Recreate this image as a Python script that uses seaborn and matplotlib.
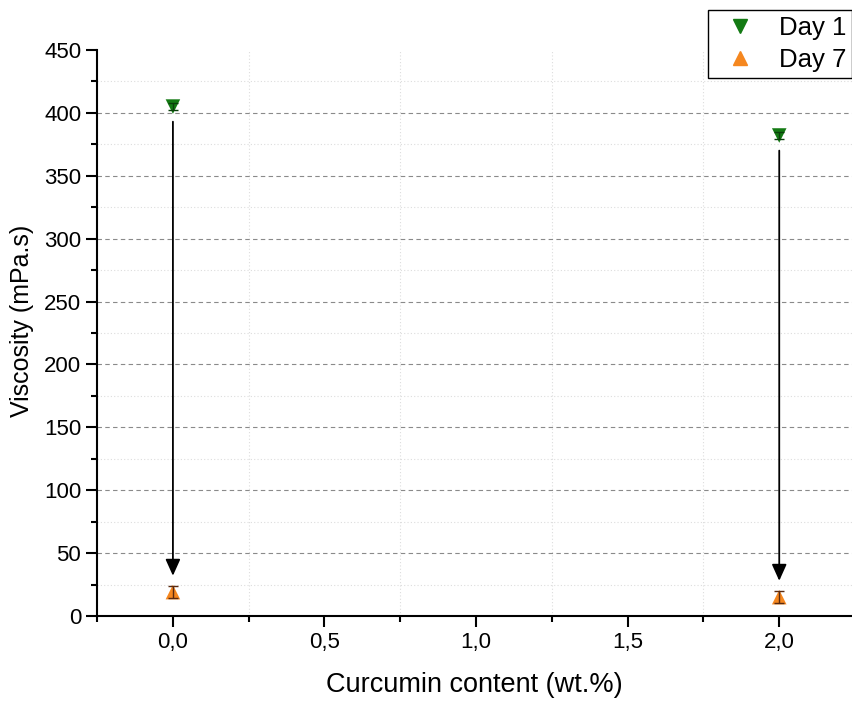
import seaborn as sns
import matplotlib.pyplot as plt
import pandas as pd
from matplotlib.ticker import MultipleLocator, FuncFormatter

# data
curcumin = [0.0, 2.0]
day1 = [405, 382]
day1_err = [3, 3]
day7 = [19, 15]
day7_err = [5, 5]
labels = ["Day 1", "Day 7"]

df = pd.DataFrame({
    "curcumin": curcumin * 2,
    "viscosity": day1 + day7,
    "err": day1_err + day7_err,
    "day": [labels[0]] * 2 + [labels[1]] * 2,
})

sns.set_style("white")
plt.rcParams['font.family'] = ['Liberation Sans', 'DejaVu Sans']

fig = plt.figure(figsize=(8.52, 7.02), dpi=100)
ax = fig.add_axes([0.114, 0.1225, 0.886, 0.8063])

colors = {"Day 1": "#137a13", "Day 7": "#f5871f"}
markers = {"Day 1": "v", "Day 7": "^"}
err_colors = {"Day 1": "#0a3f0a", "Day 7": "#5a2a10"}

sns.scatterplot(data=df, x="curcumin", y="viscosity", hue="day", style="day",
                palette=colors, markers=markers, s=110, edgecolor="none",
                ax=ax, zorder=4, legend=False)

# error bars drawn over the markers, like the original
for name, sub in df.groupby("day"):
    ax.errorbar(sub["curcumin"], sub["viscosity"], yerr=sub["err"], fmt="none",
                ecolor=err_colors[name], elinewidth=1, capsize=3.5, capthick=1, zorder=5)

# arrows showing the drop from day 1 to day 7
for x, y1, y7 in zip(curcumin, day1, day7):
    ax.annotate("", xy=(x, y7 + 13), xytext=(x, y1 - 12),
                arrowprops=dict(arrowstyle="-|>,head_width=0.45,head_length=1.0",
                                color="black", lw=1.3, shrinkA=0, shrinkB=0))

ax.set_xlim(-0.25, 2.24)
ax.set_ylim(0, 450)
ax.xaxis.set_major_locator(MultipleLocator(0.5))
ax.xaxis.set_minor_locator(MultipleLocator(0.25))
ax.yaxis.set_major_locator(MultipleLocator(50))
ax.yaxis.set_minor_locator(MultipleLocator(25))
ax.xaxis.set_major_formatter(FuncFormatter(lambda v, p: f"{v:.1f}".replace(".", ",")))

ax.grid(False)
ax.yaxis.grid(True, which="major", linestyle=(0, (4, 3)), color="#8a8a8a", lw=0.8)
ax.yaxis.grid(True, which="minor", linestyle=(0, (1, 2)), color="#dddddd", lw=0.8)
ax.xaxis.grid(True, which="minor", linestyle=(0, (1, 2)), color="#dddddd", lw=0.8)
ax.set_axisbelow(True)

for s in ["top", "right"]:
    ax.spines[s].set_visible(False)
for s in ["left", "bottom"]:
    ax.spines[s].set_color("black")
    ax.spines[s].set_linewidth(1.5)

ax.tick_params(axis="both", which="major", direction="out", length=8, width=1.5,
               labelsize=16, color="black", labelcolor="black", bottom=True, left=True)
ax.tick_params(axis="both", which="minor", direction="out", length=4, width=1.5,
               color="black", bottom=True, left=True)

ax.set_xlabel("Curcumin content (wt.%)", fontsize=19.5, labelpad=14, color="black")
ax.set_ylabel("Viscosity (mPa.s)", fontsize=18, color="black", va="center")
ax.yaxis.set_label_coords(-0.099, 0.521)

# legend
handles = [plt.Line2D([], [], marker=markers[n], color=colors[n], linestyle="none",
                      markersize=10) for n in labels]
leg = fig.legend(handles, labels, loc="upper left", bbox_to_anchor=(0.831, 0.986),
                 fontsize=18.5, frameon=True, fancybox=False, edgecolor="black",
                 framealpha=1, handlelength=2.0, handletextpad=0.5, borderpad=0.25,
                 labelspacing=0.3, borderaxespad=0)
for t in leg.get_texts():
    t.set_color("black")

# no grid line along the top of the frame
fig.canvas.draw()
for gl in ax.get_ygridlines():
    if gl.get_ydata()[0] >= 450:
        gl.set_visible(False)

plt.savefig("out.png", dpi=100)
